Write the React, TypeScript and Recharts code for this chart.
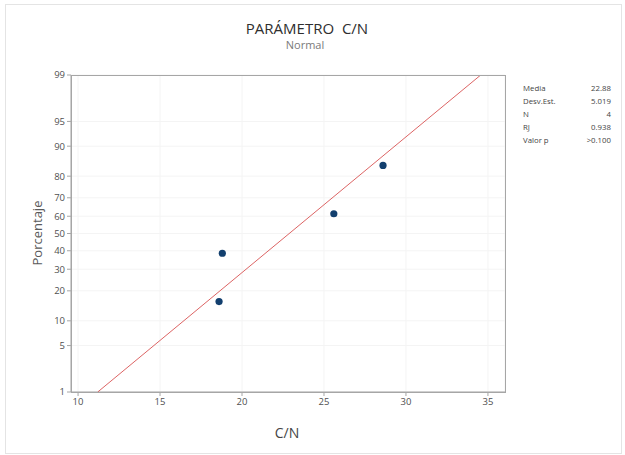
import React from 'react';
import {
  ScatterChart,
  Scatter,
  XAxis,
  YAxis,
  CartesianGrid,
} from 'recharts';

// C/N readings and their plotted percentages (median ranks)
const cnValues = [18.6, 18.8, 25.6, 28.6];
const pctValues = [15.9, 38.6, 61.4, 84.1];

// fitted normal line, read at the 1% and 99% levels
const fitCn = [11.2, 34.56];
const fitPct = [1, 99];

const xTicks = [10, 15, 20, 25, 30, 35];
const yTickLabels = [1, 5, 10, 20, 30, 40, 50, 60, 70, 80, 90, 95, 99];

const statLabels = ['Media', 'Desv.Est.', 'N', 'RJ', 'Valor p'];
const statValues = ['22.88', '5.019', '4', '0.938', '>0.100'];

const FONT = '"Open Sans", "Noto Sans", sans-serif';

// inverse standard normal (Acklam) so the y axis is a probability scale
function probit(p: number): number {
  const a = [-39.69683028665376, 220.9460984245205, -275.9285104469687, 138.357751867269, -30.66479806614716, 2.506628277386982];
  const b = [-54.47609879822406, 161.5858368580409, -155.6989798598866, 66.80131188771972, -13.28068155288572];
  const c = [-0.007784894002430293, -0.3223964580411365, -2.400758277161838, -2.549732539343734, 4.374664141464968, 2.938163982698783];
  const d = [0.007784695709041462, 0.3224671290700398, 2.445134137142996, 3.754408661907416];
  const plow = 0.02425;
  if (p < plow) {
    const q = Math.sqrt(-2 * Math.log(p));
    return (((((c[0] * q + c[1]) * q + c[2]) * q + c[3]) * q + c[4]) * q + c[5]) /
      ((((d[0] * q + d[1]) * q + d[2]) * q + d[3]) * q + 1);
  }
  if (p <= 1 - plow) {
    const q = p - 0.5;
    const r = q * q;
    return (((((a[0] * r + a[1]) * r + a[2]) * r + a[3]) * r + a[4]) * r + a[5]) * q /
      (((((b[0] * r + b[1]) * r + b[2]) * r + b[3]) * r + b[4]) * r + 1);
  }
  const q = Math.sqrt(-2 * Math.log(1 - p));
  return -(((((c[0] * q + c[1]) * q + c[2]) * q + c[3]) * q + c[4]) * q + c[5]) /
    ((((d[0] * q + d[1]) * q + d[2]) * q + d[3]) * q + 1);
}

const points = cnValues.map((x, i) => ({ x, z: probit(pctValues[i] / 100) }));
const fitLine = fitCn.map((x, i) => ({ x, z: probit(fitPct[i] / 100) }));
const yTicks = yTickLabels.map((p) => probit(p / 100));
const zMin = probit(0.01);
const zMax = probit(0.99);

const Dot = (props: any) => (
  <circle cx={props.cx} cy={props.cy} r={3.6} fill="#123f6e" />
);

export default function App() {
  return (
    <div
      style={{
        position: 'absolute',
        left: 0,
        top: 0,
        width: 625,
        height: 455,
        background: '#fff',
        fontFamily: FONT,
      }}
    >
      <div
        style={{
          position: 'absolute',
          left: 5,
          top: 4,
          width: 615,
          height: 448,
          border: '1px solid #e4e4e4',
        }}
      />
      <ScatterChart
        width={625}
        height={455}
        margin={{ top: 75, right: 120, bottom: 33, left: 41 }}
      >
        <CartesianGrid stroke="#f4f4f4" strokeWidth={1} />
        <XAxis
          type="number"
          dataKey="x"
          domain={[9.57, 36.04]}
          ticks={xTicks}
          interval={0}
          allowDataOverflow
          height={30}
          tickSize={4}
          stroke="#a6a6a6"
          tick={{ fill: '#505050', fontSize: 9.5, fontFamily: FONT }}
        />
        <YAxis
          type="number"
          dataKey="z"
          domain={[zMin, zMax]}
          ticks={yTicks}
          interval={0}
          allowDataOverflow
          width={30}
          tickSize={4}
          stroke="#a6a6a6"
          tickFormatter={(_v: number, i: number) => String(yTickLabels[i])}
          tick={{ fill: '#505050', fontSize: 9.5, fontFamily: FONT }}
        />
        <Scatter
          data={fitLine}
          line={{ stroke: '#dc6464', strokeWidth: 1 }}
          shape={() => <g />}
          isAnimationActive={false}
        />
        <Scatter data={points} shape={Dot} isAnimationActive={false} />
      </ScatterChart>
      <div
        style={{
          position: 'absolute',
          left: 71,
          top: 75,
          width: 433,
          height: 316,
          border: '1px solid #a6a6a6',
          pointerEvents: 'none',
        }}
      />
      <div
        style={{
          position: 'absolute',
          left: 207,
          width: 200,
          top: 18,
          textAlign: 'center',
          fontSize: 15,
          color: '#2e2e2e',
          whiteSpace: 'pre',
        }}
      >
        PARÁMETRO  C/N
      </div>
      <div
        style={{
          position: 'absolute',
          left: 205,
          width: 200,
          top: 37,
          textAlign: 'center',
          fontSize: 11,
          color: '#7a7a7a',
        }}
      >
        Normal
      </div>
      <div
        style={{
          position: 'absolute',
          left: 37,
          top: 233,
          transform: 'translate(-50%, -50%) rotate(-90deg)',
          fontSize: 13,
          color: '#5a5a5a',
        }}
      >
        Porcentaje
      </div>
      <div
        style={{
          position: 'absolute',
          left: 287,
          top: 432,
          transform: 'translate(-50%, -50%)',
          fontSize: 14,
          color: '#444',
        }}
      >
        C/N
      </div>
      {statLabels.map((label, i) => (
        <div
          key={label}
          style={{
            position: 'absolute',
            left: 523,
            width: 88,
            top: 83 + i * 13,
            display: 'flex',
            justifyContent: 'space-between',
            fontSize: 7.8,
            color: '#444',
          }}
        >
          <span>{label}</span>
          <span>{statValues[i]}</span>
        </div>
      ))}
    </div>
  );
}
